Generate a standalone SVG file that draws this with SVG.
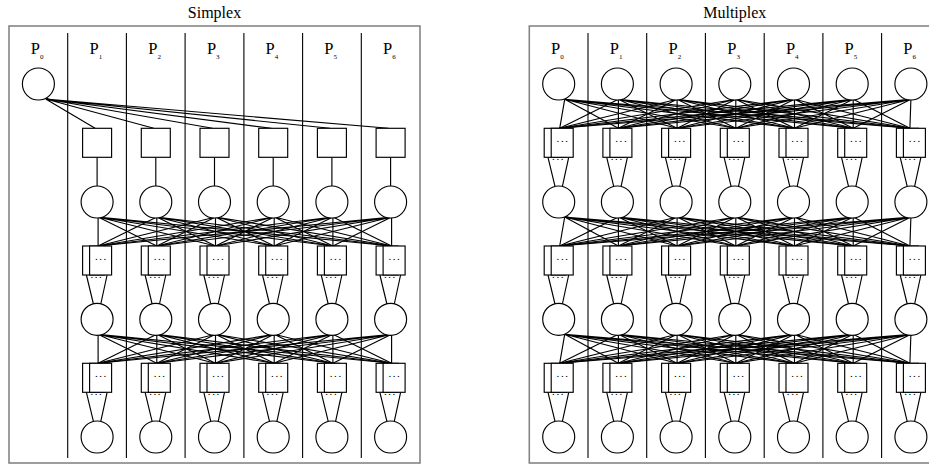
<svg xmlns="http://www.w3.org/2000/svg" width="929" height="466" viewBox="0 0 929 466">
<style>
.frame{fill:none;stroke:#858585;stroke-width:1.6}
.div{stroke:#000;stroke-width:1.1}
.title{font-family:"Liberation Serif",serif;font-size:16px;fill:#000;text-anchor:middle}
.pl{font-family:"Liberation Serif",serif;font-size:16.5px;fill:#000}
.sub{font-size:7px}
.e path{fill:none;stroke:#000;stroke-width:1.15}
.node circle,.node rect,.box rect{fill:#fff;stroke:#000;stroke-width:1.15}
.box text{font-family:"Liberation Sans",sans-serif;font-weight:bold;font-size:8px;letter-spacing:2.1px;fill:#000}
</style>
<rect width="929" height="466" fill="#fff"/>
<g id="frames">
<rect class="frame" x="9" y="26" width="411" height="437"/>
<rect class="frame" x="529.3" y="26" width="411" height="437"/>
<text class="title" x="214.5" y="18.3">Simplex</text>
<text class="title" x="734.8" y="18.3">Multiplex</text>
<g class="div">
<line x1="67.7" y1="33" x2="67.7" y2="458"/><line x1="126.4" y1="33" x2="126.4" y2="458"/><line x1="185.1" y1="33" x2="185.1" y2="458"/><line x1="243.9" y1="33" x2="243.9" y2="458"/><line x1="302.6" y1="33" x2="302.6" y2="458"/><line x1="361.3" y1="33" x2="361.3" y2="458"/>
<line x1="588" y1="33" x2="588" y2="458"/><line x1="646.7" y1="33" x2="646.7" y2="458"/><line x1="705.4" y1="33" x2="705.4" y2="458"/><line x1="764.2" y1="33" x2="764.2" y2="458"/><line x1="822.9" y1="33" x2="822.9" y2="458"/><line x1="881.6" y1="33" x2="881.6" y2="458"/>
</g>
</g>
<g id="labels">
<text class="pl" x="30.8" y="54.3">P<tspan class="sub" dy="4.5">0</tspan></text>
<text class="pl" x="89.5" y="54.3">P<tspan class="sub" dy="4.5">1</tspan></text>
<text class="pl" x="148.2" y="54.3">P<tspan class="sub" dy="4.5">2</tspan></text>
<text class="pl" x="206.9" y="54.3">P<tspan class="sub" dy="4.5">3</tspan></text>
<text class="pl" x="265.6" y="54.3">P<tspan class="sub" dy="4.5">4</tspan></text>
<text class="pl" x="324.3" y="54.3">P<tspan class="sub" dy="4.5">5</tspan></text>
<text class="pl" x="383" y="54.3">P<tspan class="sub" dy="4.5">6</tspan></text>
<text class="pl" x="551.1" y="54.3">P<tspan class="sub" dy="4.5">0</tspan></text>
<text class="pl" x="609.8" y="54.3">P<tspan class="sub" dy="4.5">1</tspan></text>
<text class="pl" x="668.5" y="54.3">P<tspan class="sub" dy="4.5">2</tspan></text>
<text class="pl" x="727.2" y="54.3">P<tspan class="sub" dy="4.5">3</tspan></text>
<text class="pl" x="785.9" y="54.3">P<tspan class="sub" dy="4.5">4</tspan></text>
<text class="pl" x="844.6" y="54.3">P<tspan class="sub" dy="4.5">5</tspan></text>
<text class="pl" x="903.3" y="54.3">P<tspan class="sub" dy="4.5">6</tspan></text>
</g>
<g id="connectors" class="e">
<path d="M45.7 99L95.1 128.3M45.7 99L153.8 128.3M45.7 99L212.5 128.3M45.7 99L271.2 128.3M45.7 99L329.9 128.3M45.7 99L388.6 128.3"/>
<path d="M97.1 157.3V186M155.8 157.3V186M214.5 157.3V186M273.2 157.3V186M331.9 157.3V186M390.6 157.3V186"/>
<g transform="translate(0,217)">
<path d="M98.1 0L98.1 29M98.1 0L156.8 29M98.1 0L215.5 29M98.1 0L274.2 29M98.1 0L332.9 29M98.1 0L391.6 29"/>
<path d="M156.8 0L98.1 29M156.8 0L156.8 29M156.8 0L215.5 29M156.8 0L274.2 29M156.8 0L332.9 29M156.8 0L391.6 29"/>
<path d="M215.5 0L98.1 29M215.5 0L156.8 29M215.5 0L215.5 29M215.5 0L274.2 29M215.5 0L332.9 29M215.5 0L391.6 29"/>
<path d="M274.2 0L98.1 29M274.2 0L156.8 29M274.2 0L215.5 29M274.2 0L274.2 29M274.2 0L332.9 29M274.2 0L391.6 29"/>
<path d="M332.9 0L98.1 29M332.9 0L156.8 29M332.9 0L215.5 29M332.9 0L274.2 29M332.9 0L332.9 29M332.9 0L391.6 29"/>
<path d="M391.6 0L98.1 29M391.6 0L156.8 29M391.6 0L215.5 29M391.6 0L274.2 29M391.6 0L332.9 29M391.6 0L391.6 29"/>
</g>
<g transform="translate(0,334.3)">
<path d="M98.1 0L98.1 29M98.1 0L156.8 29M98.1 0L215.5 29M98.1 0L274.2 29M98.1 0L332.9 29M98.1 0L391.6 29"/>
<path d="M156.8 0L98.1 29M156.8 0L156.8 29M156.8 0L215.5 29M156.8 0L274.2 29M156.8 0L332.9 29M156.8 0L391.6 29"/>
<path d="M215.5 0L98.1 29M215.5 0L156.8 29M215.5 0L215.5 29M215.5 0L274.2 29M215.5 0L332.9 29M215.5 0L391.6 29"/>
<path d="M274.2 0L98.1 29M274.2 0L156.8 29M274.2 0L215.5 29M274.2 0L274.2 29M274.2 0L332.9 29M274.2 0L391.6 29"/>
<path d="M332.9 0L98.1 29M332.9 0L156.8 29M332.9 0L215.5 29M332.9 0L274.2 29M332.9 0L332.9 29M332.9 0L391.6 29"/>
<path d="M391.6 0L98.1 29M391.6 0L156.8 29M391.6 0L215.5 29M391.6 0L274.2 29M391.6 0L332.9 29M391.6 0L391.6 29"/>
</g>
<g transform="translate(0,275)"><path d="M86.4 0L93.4 29M107.1 0L100.8 29M145.1 0L152.1 29M165.8 0L159.5 29M203.8 0L210.8 29M224.5 0L218.2 29M262.5 0L269.5 29M283.2 0L276.9 29M321.2 0L328.2 29M341.9 0L335.6 29M379.9 0L386.9 29M400.6 0L394.3 29"/></g>
<g transform="translate(0,392.3)"><path d="M86.4 0L93.4 29M107.1 0L100.8 29M145.1 0L152.1 29M165.8 0L159.5 29M203.8 0L210.8 29M224.5 0L218.2 29M262.5 0L269.5 29M283.2 0L276.9 29M321.2 0L328.2 29M341.9 0L335.6 29M379.9 0L386.9 29M400.6 0L394.3 29"/></g>
<g transform="translate(0,99.3)">
<path d="M564.7 0L559.7 29M564.7 0L618.4 29M564.7 0L677.1 29M564.7 0L735.8 29M564.7 0L794.5 29M564.7 0L853.2 29M564.7 0L909.9 29"/>
<path d="M618.4 0L559.7 29M618.4 0L618.4 29M618.4 0L677.1 29M618.4 0L735.8 29M618.4 0L794.5 29M618.4 0L853.2 29M618.4 0L909.9 29"/>
<path d="M677.1 0L559.7 29M677.1 0L618.4 29M677.1 0L677.1 29M677.1 0L735.8 29M677.1 0L794.5 29M677.1 0L853.2 29M677.1 0L909.9 29"/>
<path d="M735.8 0L559.7 29M735.8 0L618.4 29M735.8 0L677.1 29M735.8 0L735.8 29M735.8 0L794.5 29M735.8 0L853.2 29M735.8 0L909.9 29"/>
<path d="M794.5 0L559.7 29M794.5 0L618.4 29M794.5 0L677.1 29M794.5 0L735.8 29M794.5 0L794.5 29M794.5 0L853.2 29M794.5 0L909.9 29"/>
<path d="M853.2 0L559.7 29M853.2 0L618.4 29M853.2 0L677.1 29M853.2 0L735.8 29M853.2 0L794.5 29M853.2 0L853.2 29M853.2 0L909.9 29"/>
<path d="M910.9 0L559.7 29M910.9 0L618.4 29M910.9 0L677.1 29M910.9 0L735.8 29M910.9 0L794.5 29M910.9 0L853.2 29M910.9 0L909.9 29"/>
</g>
<g transform="translate(0,217)">
<path d="M564.7 0L559.7 29M564.7 0L618.4 29M564.7 0L677.1 29M564.7 0L735.8 29M564.7 0L794.5 29M564.7 0L853.2 29M564.7 0L909.9 29"/>
<path d="M618.4 0L559.7 29M618.4 0L618.4 29M618.4 0L677.1 29M618.4 0L735.8 29M618.4 0L794.5 29M618.4 0L853.2 29M618.4 0L909.9 29"/>
<path d="M677.1 0L559.7 29M677.1 0L618.4 29M677.1 0L677.1 29M677.1 0L735.8 29M677.1 0L794.5 29M677.1 0L853.2 29M677.1 0L909.9 29"/>
<path d="M735.8 0L559.7 29M735.8 0L618.4 29M735.8 0L677.1 29M735.8 0L735.8 29M735.8 0L794.5 29M735.8 0L853.2 29M735.8 0L909.9 29"/>
<path d="M794.5 0L559.7 29M794.5 0L618.4 29M794.5 0L677.1 29M794.5 0L735.8 29M794.5 0L794.5 29M794.5 0L853.2 29M794.5 0L909.9 29"/>
<path d="M853.2 0L559.7 29M853.2 0L618.4 29M853.2 0L677.1 29M853.2 0L735.8 29M853.2 0L794.5 29M853.2 0L853.2 29M853.2 0L909.9 29"/>
<path d="M910.9 0L559.7 29M910.9 0L618.4 29M910.9 0L677.1 29M910.9 0L735.8 29M910.9 0L794.5 29M910.9 0L853.2 29M910.9 0L909.9 29"/>
</g>
<g transform="translate(0,334.3)">
<path d="M564.7 0L559.7 29M564.7 0L618.4 29M564.7 0L677.1 29M564.7 0L735.8 29M564.7 0L794.5 29M564.7 0L853.2 29M564.7 0L909.9 29"/>
<path d="M618.4 0L559.7 29M618.4 0L618.4 29M618.4 0L677.1 29M618.4 0L735.8 29M618.4 0L794.5 29M618.4 0L853.2 29M618.4 0L909.9 29"/>
<path d="M677.1 0L559.7 29M677.1 0L618.4 29M677.1 0L677.1 29M677.1 0L735.8 29M677.1 0L794.5 29M677.1 0L853.2 29M677.1 0L909.9 29"/>
<path d="M735.8 0L559.7 29M735.8 0L618.4 29M735.8 0L677.1 29M735.8 0L735.8 29M735.8 0L794.5 29M735.8 0L853.2 29M735.8 0L909.9 29"/>
<path d="M794.5 0L559.7 29M794.5 0L618.4 29M794.5 0L677.1 29M794.5 0L735.8 29M794.5 0L794.5 29M794.5 0L853.2 29M794.5 0L909.9 29"/>
<path d="M853.2 0L559.7 29M853.2 0L618.4 29M853.2 0L677.1 29M853.2 0L735.8 29M853.2 0L794.5 29M853.2 0L853.2 29M853.2 0L909.9 29"/>
<path d="M910.9 0L559.7 29M910.9 0L618.4 29M910.9 0L677.1 29M910.9 0L735.8 29M910.9 0L794.5 29M910.9 0L853.2 29M910.9 0L909.9 29"/>
</g>
<g transform="translate(0,157.3)"><path d="M548 0L555 29M568.7 0L562.4 29M606.7 0L613.7 29M627.4 0L621.1 29M665.4 0L672.4 29M686.1 0L679.8 29M724.1 0L731.1 29M744.8 0L738.5 29M782.8 0L789.8 29M803.5 0L797.2 29M841.5 0L848.5 29M862.2 0L855.9 29M900.2 0L907.2 29M920.9 0L914.6 29"/></g>
<g transform="translate(0,275)"><path d="M548 0L555 29M568.7 0L562.4 29M606.7 0L613.7 29M627.4 0L621.1 29M665.4 0L672.4 29M686.1 0L679.8 29M724.1 0L731.1 29M744.8 0L738.5 29M782.8 0L789.8 29M803.5 0L797.2 29M841.5 0L848.5 29M862.2 0L855.9 29M900.2 0L907.2 29M920.9 0L914.6 29"/></g>
<g transform="translate(0,392.3)"><path d="M548 0L555 29M568.7 0L562.4 29M606.7 0L613.7 29M627.4 0L621.1 29M665.4 0L672.4 29M686.1 0L679.8 29M724.1 0L731.1 29M744.8 0L738.5 29M782.8 0L789.8 29M803.5 0L797.2 29M841.5 0L848.5 29M862.2 0L855.9 29M900.2 0L907.2 29M920.9 0L914.6 29"/></g>
</g>
<g id="simplex-nodes">
<g id="s-c0-0" class="node"><circle cx="38.4" cy="84" r="16"/></g>
<g id="s-q1" class="node"><rect x="82.6" y="128.3" width="29" height="29"/></g>
<g id="s-q2" class="node"><rect x="141.3" y="128.3" width="29" height="29"/></g>
<g id="s-q3" class="node"><rect x="200" y="128.3" width="29" height="29"/></g>
<g id="s-q4" class="node"><rect x="258.7" y="128.3" width="29" height="29"/></g>
<g id="s-q5" class="node"><rect x="317.4" y="128.3" width="29" height="29"/></g>
<g id="s-q6" class="node"><rect x="376.1" y="128.3" width="29" height="29"/></g>
<g id="s-c1-1" class="node"><circle cx="97.1" cy="202" r="16"/></g>
<g id="s-c1-2" class="node"><circle cx="155.8" cy="202" r="16"/></g>
<g id="s-c1-3" class="node"><circle cx="214.5" cy="202" r="16"/></g>
<g id="s-c1-4" class="node"><circle cx="273.2" cy="202" r="16"/></g>
<g id="s-c1-5" class="node"><circle cx="331.9" cy="202" r="16"/></g>
<g id="s-c1-6" class="node"><circle cx="390.6" cy="202" r="16"/></g>
<g id="s-b1-1" class="box" transform="translate(97.1,246)"><rect x="-14.5" width="22" height="29"/><rect x="-7.5" width="22" height="29"/><text x="-1.9" y="13.5">...</text><text x="-6.4" y="32.2">...</text></g>
<g id="s-b1-2" class="box" transform="translate(155.8,246)"><rect x="-14.5" width="22" height="29"/><rect x="-7.5" width="22" height="29"/><text x="-1.9" y="13.5">...</text><text x="-6.4" y="32.2">...</text></g>
<g id="s-b1-3" class="box" transform="translate(214.5,246)"><rect x="-14.5" width="22" height="29"/><rect x="-7.5" width="22" height="29"/><text x="-1.9" y="13.5">...</text><text x="-6.4" y="32.2">...</text></g>
<g id="s-b1-4" class="box" transform="translate(273.2,246)"><rect x="-14.5" width="22" height="29"/><rect x="-7.5" width="22" height="29"/><text x="-1.9" y="13.5">...</text><text x="-6.4" y="32.2">...</text></g>
<g id="s-b1-5" class="box" transform="translate(331.9,246)"><rect x="-14.5" width="22" height="29"/><rect x="-7.5" width="22" height="29"/><text x="-1.9" y="13.5">...</text><text x="-6.4" y="32.2">...</text></g>
<g id="s-b1-6" class="box" transform="translate(390.6,246)"><rect x="-14.5" width="22" height="29"/><rect x="-7.5" width="22" height="29"/><text x="-1.9" y="13.5">...</text><text x="-6.4" y="32.2">...</text></g>
<g id="s-c2-1" class="node"><circle cx="97.1" cy="319.3" r="16"/></g>
<g id="s-c2-2" class="node"><circle cx="155.8" cy="319.3" r="16"/></g>
<g id="s-c2-3" class="node"><circle cx="214.5" cy="319.3" r="16"/></g>
<g id="s-c2-4" class="node"><circle cx="273.2" cy="319.3" r="16"/></g>
<g id="s-c2-5" class="node"><circle cx="331.9" cy="319.3" r="16"/></g>
<g id="s-c2-6" class="node"><circle cx="390.6" cy="319.3" r="16"/></g>
<g id="s-b2-1" class="box" transform="translate(97.1,363.3)"><rect x="-14.5" width="22" height="29"/><rect x="-7.5" width="22" height="29"/><text x="-1.9" y="13.5">...</text><text x="-6.4" y="32.2">...</text></g>
<g id="s-b2-2" class="box" transform="translate(155.8,363.3)"><rect x="-14.5" width="22" height="29"/><rect x="-7.5" width="22" height="29"/><text x="-1.9" y="13.5">...</text><text x="-6.4" y="32.2">...</text></g>
<g id="s-b2-3" class="box" transform="translate(214.5,363.3)"><rect x="-14.5" width="22" height="29"/><rect x="-7.5" width="22" height="29"/><text x="-1.9" y="13.5">...</text><text x="-6.4" y="32.2">...</text></g>
<g id="s-b2-4" class="box" transform="translate(273.2,363.3)"><rect x="-14.5" width="22" height="29"/><rect x="-7.5" width="22" height="29"/><text x="-1.9" y="13.5">...</text><text x="-6.4" y="32.2">...</text></g>
<g id="s-b2-5" class="box" transform="translate(331.9,363.3)"><rect x="-14.5" width="22" height="29"/><rect x="-7.5" width="22" height="29"/><text x="-1.9" y="13.5">...</text><text x="-6.4" y="32.2">...</text></g>
<g id="s-b2-6" class="box" transform="translate(390.6,363.3)"><rect x="-14.5" width="22" height="29"/><rect x="-7.5" width="22" height="29"/><text x="-1.9" y="13.5">...</text><text x="-6.4" y="32.2">...</text></g>
<g id="s-c3-1" class="node"><circle cx="97.1" cy="437" r="16"/></g>
<g id="s-c3-2" class="node"><circle cx="155.8" cy="437" r="16"/></g>
<g id="s-c3-3" class="node"><circle cx="214.5" cy="437" r="16"/></g>
<g id="s-c3-4" class="node"><circle cx="273.2" cy="437" r="16"/></g>
<g id="s-c3-5" class="node"><circle cx="331.9" cy="437" r="16"/></g>
<g id="s-c3-6" class="node"><circle cx="390.6" cy="437" r="16"/></g>
</g>
<g id="multiplex-nodes">
<g id="m-c0-0" class="node"><circle cx="558.7" cy="84" r="16"/></g>
<g id="m-c0-1" class="node"><circle cx="617.4" cy="84" r="16"/></g>
<g id="m-c0-2" class="node"><circle cx="676.1" cy="84" r="16"/></g>
<g id="m-c0-3" class="node"><circle cx="734.8" cy="84" r="16"/></g>
<g id="m-c0-4" class="node"><circle cx="793.5" cy="84" r="16"/></g>
<g id="m-c0-5" class="node"><circle cx="852.2" cy="84" r="16"/></g>
<g id="m-c0-6" class="node"><circle cx="910.9" cy="84" r="16"/></g>
<g id="m-b0-0" class="box" transform="translate(558.7,128.3)"><rect x="-14.5" width="22" height="29"/><rect x="-7.5" width="22" height="29"/><text x="-1.9" y="13.5">...</text><text x="-6.4" y="32.2">...</text></g>
<g id="m-b0-1" class="box" transform="translate(617.4,128.3)"><rect x="-14.5" width="22" height="29"/><rect x="-7.5" width="22" height="29"/><text x="-1.9" y="13.5">...</text><text x="-6.4" y="32.2">...</text></g>
<g id="m-b0-2" class="box" transform="translate(676.1,128.3)"><rect x="-14.5" width="22" height="29"/><rect x="-7.5" width="22" height="29"/><text x="-1.9" y="13.5">...</text><text x="-6.4" y="32.2">...</text></g>
<g id="m-b0-3" class="box" transform="translate(734.8,128.3)"><rect x="-14.5" width="22" height="29"/><rect x="-7.5" width="22" height="29"/><text x="-1.9" y="13.5">...</text><text x="-6.4" y="32.2">...</text></g>
<g id="m-b0-4" class="box" transform="translate(793.5,128.3)"><rect x="-14.5" width="22" height="29"/><rect x="-7.5" width="22" height="29"/><text x="-1.9" y="13.5">...</text><text x="-6.4" y="32.2">...</text></g>
<g id="m-b0-5" class="box" transform="translate(852.2,128.3)"><rect x="-14.5" width="22" height="29"/><rect x="-7.5" width="22" height="29"/><text x="-1.9" y="13.5">...</text><text x="-6.4" y="32.2">...</text></g>
<g id="m-b0-6" class="box" transform="translate(910.9,128.3)"><rect x="-14.5" width="22" height="29"/><rect x="-7.5" width="22" height="29"/><text x="-1.9" y="13.5">...</text><text x="-6.4" y="32.2">...</text></g>
<g id="m-c1-0" class="node"><circle cx="558.7" cy="202" r="16"/></g>
<g id="m-c1-1" class="node"><circle cx="617.4" cy="202" r="16"/></g>
<g id="m-c1-2" class="node"><circle cx="676.1" cy="202" r="16"/></g>
<g id="m-c1-3" class="node"><circle cx="734.8" cy="202" r="16"/></g>
<g id="m-c1-4" class="node"><circle cx="793.5" cy="202" r="16"/></g>
<g id="m-c1-5" class="node"><circle cx="852.2" cy="202" r="16"/></g>
<g id="m-c1-6" class="node"><circle cx="910.9" cy="202" r="16"/></g>
<g id="m-b1-0" class="box" transform="translate(558.7,246)"><rect x="-14.5" width="22" height="29"/><rect x="-7.5" width="22" height="29"/><text x="-1.9" y="13.5">...</text><text x="-6.4" y="32.2">...</text></g>
<g id="m-b1-1" class="box" transform="translate(617.4,246)"><rect x="-14.5" width="22" height="29"/><rect x="-7.5" width="22" height="29"/><text x="-1.9" y="13.5">...</text><text x="-6.4" y="32.2">...</text></g>
<g id="m-b1-2" class="box" transform="translate(676.1,246)"><rect x="-14.5" width="22" height="29"/><rect x="-7.5" width="22" height="29"/><text x="-1.9" y="13.5">...</text><text x="-6.4" y="32.2">...</text></g>
<g id="m-b1-3" class="box" transform="translate(734.8,246)"><rect x="-14.5" width="22" height="29"/><rect x="-7.5" width="22" height="29"/><text x="-1.9" y="13.5">...</text><text x="-6.4" y="32.2">...</text></g>
<g id="m-b1-4" class="box" transform="translate(793.5,246)"><rect x="-14.5" width="22" height="29"/><rect x="-7.5" width="22" height="29"/><text x="-1.9" y="13.5">...</text><text x="-6.4" y="32.2">...</text></g>
<g id="m-b1-5" class="box" transform="translate(852.2,246)"><rect x="-14.5" width="22" height="29"/><rect x="-7.5" width="22" height="29"/><text x="-1.9" y="13.5">...</text><text x="-6.4" y="32.2">...</text></g>
<g id="m-b1-6" class="box" transform="translate(910.9,246)"><rect x="-14.5" width="22" height="29"/><rect x="-7.5" width="22" height="29"/><text x="-1.9" y="13.5">...</text><text x="-6.4" y="32.2">...</text></g>
<g id="m-c2-0" class="node"><circle cx="558.7" cy="319.3" r="16"/></g>
<g id="m-c2-1" class="node"><circle cx="617.4" cy="319.3" r="16"/></g>
<g id="m-c2-2" class="node"><circle cx="676.1" cy="319.3" r="16"/></g>
<g id="m-c2-3" class="node"><circle cx="734.8" cy="319.3" r="16"/></g>
<g id="m-c2-4" class="node"><circle cx="793.5" cy="319.3" r="16"/></g>
<g id="m-c2-5" class="node"><circle cx="852.2" cy="319.3" r="16"/></g>
<g id="m-c2-6" class="node"><circle cx="910.9" cy="319.3" r="16"/></g>
<g id="m-b2-0" class="box" transform="translate(558.7,363.3)"><rect x="-14.5" width="22" height="29"/><rect x="-7.5" width="22" height="29"/><text x="-1.9" y="13.5">...</text><text x="-6.4" y="32.2">...</text></g>
<g id="m-b2-1" class="box" transform="translate(617.4,363.3)"><rect x="-14.5" width="22" height="29"/><rect x="-7.5" width="22" height="29"/><text x="-1.9" y="13.5">...</text><text x="-6.4" y="32.2">...</text></g>
<g id="m-b2-2" class="box" transform="translate(676.1,363.3)"><rect x="-14.5" width="22" height="29"/><rect x="-7.5" width="22" height="29"/><text x="-1.9" y="13.5">...</text><text x="-6.4" y="32.2">...</text></g>
<g id="m-b2-3" class="box" transform="translate(734.8,363.3)"><rect x="-14.5" width="22" height="29"/><rect x="-7.5" width="22" height="29"/><text x="-1.9" y="13.5">...</text><text x="-6.4" y="32.2">...</text></g>
<g id="m-b2-4" class="box" transform="translate(793.5,363.3)"><rect x="-14.5" width="22" height="29"/><rect x="-7.5" width="22" height="29"/><text x="-1.9" y="13.5">...</text><text x="-6.4" y="32.2">...</text></g>
<g id="m-b2-5" class="box" transform="translate(852.2,363.3)"><rect x="-14.5" width="22" height="29"/><rect x="-7.5" width="22" height="29"/><text x="-1.9" y="13.5">...</text><text x="-6.4" y="32.2">...</text></g>
<g id="m-b2-6" class="box" transform="translate(910.9,363.3)"><rect x="-14.5" width="22" height="29"/><rect x="-7.5" width="22" height="29"/><text x="-1.9" y="13.5">...</text><text x="-6.4" y="32.2">...</text></g>
<g id="m-c3-0" class="node"><circle cx="558.7" cy="437" r="16"/></g>
<g id="m-c3-1" class="node"><circle cx="617.4" cy="437" r="16"/></g>
<g id="m-c3-2" class="node"><circle cx="676.1" cy="437" r="16"/></g>
<g id="m-c3-3" class="node"><circle cx="734.8" cy="437" r="16"/></g>
<g id="m-c3-4" class="node"><circle cx="793.5" cy="437" r="16"/></g>
<g id="m-c3-5" class="node"><circle cx="852.2" cy="437" r="16"/></g>
<g id="m-c3-6" class="node"><circle cx="910.9" cy="437" r="16"/></g>
</g>
</svg>
